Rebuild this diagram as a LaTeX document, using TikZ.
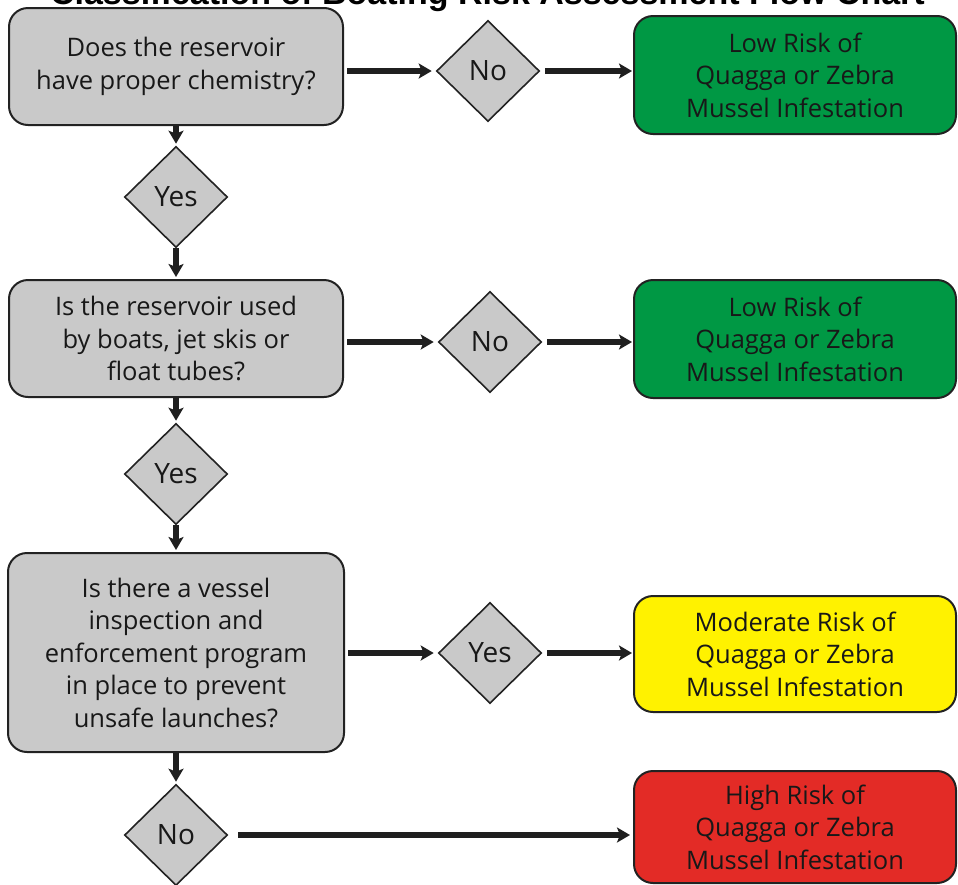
\documentclass[tikz,border=0pt]{standalone}
\usepackage{fontspec}
\setmainfont{Open Sans}
\newfontfamily\titlefont{Liberation Sans}
\usetikzlibrary{shapes.geometric,arrows.meta}
\definecolor{boxgray}{RGB}{201,201,201}
\definecolor{edge}{RGB}{34,34,34}
\definecolor{txt}{RGB}{24,24,24}
\definecolor{lowgreen}{RGB}{0,152,68}
\definecolor{modyellow}{RGB}{255,242,0}
\definecolor{highred}{RGB}{227,43,38}
\begin{document}
\begin{tikzpicture}[x=1pt,y=-1pt,
  box/.style={draw=edge, line width=2pt, rounded corners=19pt, align=center,
    inner sep=0pt, text=txt, font=\fontsize{25.5}{32.5}\selectfont},
  qbox/.style={box, fill=boxgray, minimum width=334pt},
  rbox/.style={box, minimum width=322pt, minimum height=118pt},
  dia/.style={diamond, aspect=1, draw=edge, line width=1.6pt, fill=boxgray,
    inner sep=0pt, minimum width=103pt, minimum height=101pt, text=txt,
    font=\fontsize{28}{32}\selectfont},
  arr/.style={line width=5.5pt, draw=black!88,
    -{Stealth[length=13pt,width=15pt,inset=3pt]}}
]
\useasboundingbox (0,0) rectangle (958,884);
% title (clipped at the top edge, as in the reference)
\node[anchor=base east, inner sep=0pt, font=\titlefont\bfseries\fontsize{34}{40}\selectfont]
  (title) at (925,4.5) {Classification of Boating Risk Assessment Flow Chart};
% questions
\node[qbox, minimum height=117pt] (g1) at (176,66.5) {Does the reservoir\\have proper chemistry?};
\node[qbox, minimum height=117pt] (g2) at (176,338.5) {Is the reservoir used\\by boats, jet skis or\\float tubes?};
\node[qbox, minimum width=336pt, minimum height=199pt] (g3) at (176,652.5) {Is there a vessel\\inspection and\\enforcement program\\in place to prevent\\unsafe launches?};
% diamonds
\node[dia] (d1) at (488,71) {No};
\node[dia] (y1) at (176,197) {Yes};
\node[dia] (d2) at (490,342) {No};
\node[dia] (y2) at (176,474) {Yes};
\node[dia] (d3) at (490,653) {Yes};
\node[dia] (n3) at (176,835) {No};
% results
\node[rbox, fill=lowgreen] (r1) at (795,75) {Low Risk of\\Quagga or Zebra\\Mussel Infestation};
\node[rbox, fill=lowgreen] (r2) at (795,339) {Low Risk of\\Quagga or Zebra\\Mussel Infestation};
\node[rbox, fill=modyellow, minimum height=116pt] (r3) at (795,654) {Moderate Risk of\\Quagga or Zebra\\Mussel Infestation};
\node[rbox, fill=highred, minimum height=112pt] (r4) at (795,827) {High Risk of\\Quagga or Zebra\\Mussel Infestation};
% connectors
\draw[arr, shorten <=3pt, shorten >=4pt] (g1.east |- d1.west) -- (d1.west);
\draw[arr, shorten <=5pt, shorten >=1pt] (d1.east) -- (d1.east -| r1.west);
\draw[arr, shorten >=2pt] (g1.south) -- (y1.north);
\draw[arr, shorten >=2pt] (y1.south) -- (g2.north);
\draw[arr, shorten <=3pt, shorten >=4pt] (g2.east |- d2.west) -- (d2.west);
\draw[arr, shorten <=5pt, shorten >=1pt] (d2.east) -- (d2.east -| r2.west);
\draw[arr, shorten >=2pt] (g2.south) -- (y2.north);
\draw[arr, shorten >=2pt] (y2.south) -- (g3.north);
\draw[arr, shorten <=3pt, shorten >=4pt] (g3.east |- d3.west) -- (d3.west);
\draw[arr, shorten <=5pt, shorten >=1pt] (d3.east) -- (d3.east -| r3.west);
\draw[arr, shorten >=2pt] (g3.south) -- (n3.north);
\draw[arr, shorten <=10pt, shorten >=3pt] (n3.east) -- (n3.east -| r4.west);
\end{tikzpicture}
\end{document}
